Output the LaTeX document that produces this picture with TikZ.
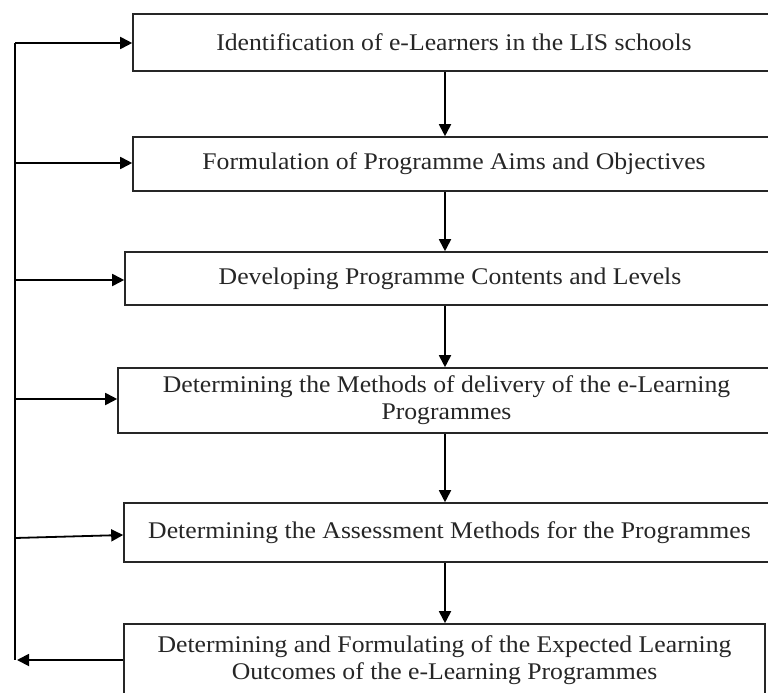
\documentclass[tikz,border=0pt]{standalone}
\usepackage{fontspec}
\setmainfont[FakeStretch=1.075]{Liberation Serif}
\usetikzlibrary{arrows.meta}
\begin{document}
\begin{tikzpicture}[x=1bp,y=-1bp,
  box/.style={draw=black!85, line width=1.6bp, rectangle, inner sep=0pt, align=center,
    font=\fontsize{24}{27}\selectfont, text=black!85},
  arr/.style={line width=1.8bp, -{Triangle[length=12bp,width=12bp]}},
  ln/.style={line width=1.8bp}]
\useasboundingbox (0,0) rectangle (768,693);
\clip (0,0) rectangle (768,693);
\node[box, minimum width=642bp, minimum height=57bp] (b1) at (454,42.5) {Identification of e-Learners in the LIS schools};
\node[box, minimum width=642bp, minimum height=54bp] (b2) at (454,164) {Formulation of Programme Aims and Objectives};
\node[box, minimum width=650bp, minimum height=53bp] (b3) at (450,278.5) {Developing Programme Contents and Levels};
\node[box, minimum width=657bp, minimum height=65bp] (b4) at (446.5,400.5) {Determining the Methods of delivery of the e-Learning\\Programmes};
\node[box, minimum width=651bp, minimum height=59bp] (b5) at (449.5,532.5) {Determining the Assessment Methods for the Programmes};
\node[box, minimum width=641bp, minimum height=73bp] (b6) at (444.5,660.5) {Determining and Formulating of the Expected Learning\\Outcomes of the e-Learning Programmes};
\coordinate (xa) at (445,0);
\foreach \i/\j in {1/2,2/3,3/4,4/5,5/6}
  \draw[arr] (b\i.south -| xa) -- (b\j.north -| xa);
\coordinate (top) at (15,43);
\coordinate (bot) at (15,660);
\draw[ln] (top) -- (bot);
\coordinate (l1) at (15,43);
\coordinate (l2) at (15,163);
\coordinate (l3) at (15,280);
\coordinate (l4) at (15,399);
\coordinate (l5) at (15,538);
\coordinate (l6) at (17,660);
\draw[arr] (l1) -- (l1 -| b1.west);
\draw[arr] (l2) -- (l2 -| b2.west);
\draw[arr] (l3) -- (l3 -| b3.west);
\draw[arr] (l4) -- (l4 -| b4.west);
\draw[arr] (l5) -- (b5.west |- 0,535);
\draw[arr] (l6 -| b6.west) -- (l6);
\end{tikzpicture}
\end{document}
